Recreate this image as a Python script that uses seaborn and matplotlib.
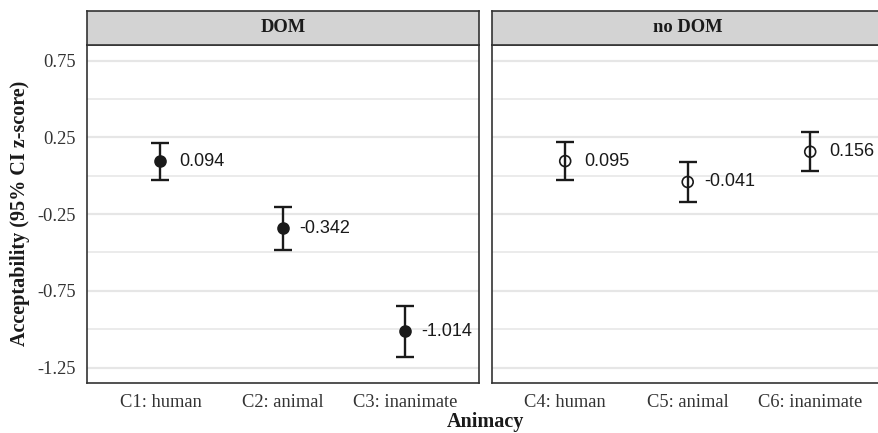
import matplotlib
matplotlib.use("Agg")
import matplotlib.pyplot as plt
import seaborn as sns
import pandas as pd

# Condition means and 95% CI half-widths (z-scores)
conditions_dom = ["C1: human", "C2: animal", "C3: inanimate"]
conditions_nodom = ["C4: human", "C5: animal", "C6: inanimate"]
means_dom = [0.094, -0.342, -1.014]
means_nodom = [0.095, -0.041, 0.156]
ci_dom = [0.122, 0.139, 0.165]
ci_nodom = [0.122, 0.128, 0.127]
panels = ["DOM", "no DOM"]

y_major = [0.75, 0.25, -0.25, -0.75, -1.25]
y_minor = [0.5, 0.0, -0.5, -1.0]

sns.set_theme(style="white")
serif = ["Liberation Serif", "DejaVu Serif"]
sans = ["Liberation Sans", "DejaVu Sans"]
plt.rcParams["font.family"] = serif

W, H = 879, 433
fig = plt.figure(figsize=(W / 100, H / 100), dpi=100)

panel_top, panel_bot = 45, 382.7
strip_top = 11
panel_w = 392
lefts = [87, 491.7]

ink = "#1a1a1a"
grid_c = "#e6e6e6"
border_c = "#333333"

data = [
    pd.DataFrame({"cond": conditions_dom, "mean": means_dom, "ci": ci_dom}),
    pd.DataFrame({"cond": conditions_nodom, "mean": means_nodom, "ci": ci_nodom}),
]

for i, (panel, df) in enumerate(zip(panels, data)):
    x0 = lefts[i]
    ax = fig.add_axes([x0 / W, 1 - panel_bot / H, panel_w / W, (panel_bot - panel_top) / H])
    ax.set_facecolor("white")
    ax.set_xlim(-0.6, 2.6)
    ax.set_ylim(-1.348, 0.851)

    for v in y_major:
        ax.axhline(v, color=grid_c, lw=1.6, zorder=0)
    for v in y_minor:
        ax.axhline(v, color=grid_c, lw=1.1, zorder=0)

    xs = list(range(len(df)))
    filled = panel == "DOM"
    sns.scatterplot(x=xs, y=df["mean"], ax=ax, s=62, marker="o",
                    facecolor=ink if filled else "none",
                    edgecolor=ink, linewidth=1.2, zorder=2, legend=False)
    ax.errorbar(xs, df["mean"], yerr=df["ci"], fmt="none", ecolor=ink,
                elinewidth=1.7, capsize=6.3, capthick=1.7, zorder=3)
    for x, m in zip(xs, df["mean"]):
        ax.text(x + 0.34, m, f"{m:.3f}", ha="center", va="center",
                fontsize=13, family=sans, color=ink, zorder=4)

    ax.set_xticks(xs)
    ax.set_xticklabels(df["cond"], fontsize=13.3, color="#333333")
    ax.set_yticks(y_major)
    if i == 0:
        ax.set_yticklabels([f"{v:.2f}" for v in y_major], fontsize=13.3, color="#333333")
    ax.tick_params(axis="both", direction="out", length=5, width=1.2,
                   color=border_c, pad=3)
    if i == 1:
        ax.set_yticklabels([])
        ax.tick_params(axis="y", length=0)
    ax.set_xlabel("")
    ax.set_ylabel("")
    for sp in ax.spines.values():
        sp.set_color(border_c)
        sp.set_linewidth(1.2)

    # facet strip
    sax = fig.add_axes([x0 / W, 1 - panel_top / H, panel_w / W, (panel_top - strip_top) / H])
    sax.set_facecolor("#d3d3d3")
    sax.set_xticks([])
    sax.set_yticks([])
    for sp in sax.spines.values():
        sp.set_color(border_c)
        sp.set_linewidth(1.2)
    sax.text(0.5, 0.5, panel, transform=sax.transAxes, ha="center", va="center",
             fontsize=13.3, fontweight="bold", color=ink)

fig.text(485 / W, 1 - 422 / H, "Animacy", ha="center", va="center",
         fontsize=14.5, fontweight="bold", color=ink)
fig.text(20 / W, 1 - ((panel_top + panel_bot) / 2) / H, "Acceptability (95% CI z-score)",
         ha="center", va="center", rotation=90, fontsize=14.5, fontweight="bold", color=ink)

fig.savefig("out.png", dpi=100)
